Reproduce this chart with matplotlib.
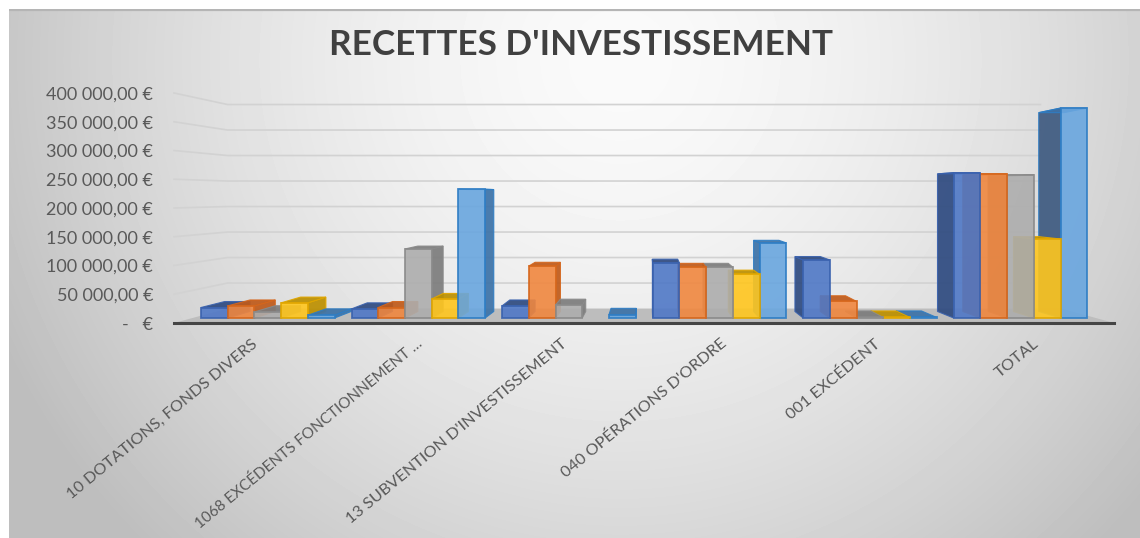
import numpy as np
import matplotlib
matplotlib.use("Agg")
import matplotlib.pyplot as plt
from matplotlib.patches import Polygon

title = "RECETTES D'INVESTISSEMENT"
categories = ["10 DOTATIONS, FONDS DIVERS", "1068 EXCÉDENTS FONCTIONNEMENT …",
              "13 SUBVENTION D'INVESTISSEMENT", "040 OPÉRATIONS D'ORDRE",
              "001 EXCÉDENT", "TOTAL"]
serie_1 = [19000, 16500, 22000, 100000, 105000, 263000]
serie_2 = [22000, 19000, 94000, 92000, 30000, 261000]
serie_3 = [11000, 125000, 23500, 92000, 1000, 259000]
serie_4 = [27500, 34500, 0, 79000, 1000, 143000]
serie_5 = [5000, 233000, 6000, 136000, 1000, 380000]
y_ticks = [0, 50000, 100000, 150000, 200000, 250000, 300000, 350000, 400000]
y_labels = ["-   €", "50 000,00 €", "100 000,00 €", "150 000,00 €", "200 000,00 €",
            "250 000,00 €", "300 000,00 €", "350 000,00 €", "400 000,00 €"]

series = [serie_1, serie_2, serie_3, serie_4, serie_5]
front_cols = ["#4F78C6", "#F0873F", "#ADADAD", "#FFC61E", "#69A6DF"]
edge_cols = ["#3A62AE", "#D5661C", "#8A8A8A", "#E0A600", "#2E7DC4"]
dark_cols = ["#2E4A80", "#BF5A1A", "#7C7C7C", "#BC9000", "#3C72A8"]

W, H = 1140, 538
fig = plt.figure(figsize=(W / 100, H / 100), dpi=100, facecolor="white")
plt.rcParams["font.family"] = ["Lato", "DejaVu Sans"]

# background gradient
bg = fig.add_axes([9 / W, 0, 1 - 9 / W, (H - 9) / H], zorder=0)
xx, yy = np.meshgrid(np.arange(9, W), np.arange(9, H))
d = np.minimum(np.hypot((xx - 620) / 620, (yy - 60) / 620), 1.1)
bg.imshow(250 - 52 * d ** 1.6, cmap="gray", vmin=0, vmax=255, aspect="auto",
          extent=(9, W, H, 9), interpolation="bilinear")
bg.axhline(9.5, color="#B5B5B5", lw=1.6)
bg.set_axis_off()

ax = fig.add_axes([174 / W, (H - 323) / H, 940 / W, 230 / H], zorder=1)
ax.patch.set_alpha(0)
ax.set_xlim(-0.5, 5.5)
ax.set_ylim(0, 400000)
for name in ("top", "right", "left"):
    ax.spines[name].set_visible(False)
ax.spines["bottom"].set_color("#454545")
ax.spines["bottom"].set_linewidth(2.2)
ax.spines["bottom"].set_zorder(2)
ax.set_xticks([])
ax.set_yticks(y_ticks, y_labels)
ax.tick_params(axis="y", length=0, pad=15, labelsize=13, labelcolor="#595959")

# simple perspective projection: s=1 is the front plane, toward the vanishing point
VX, VY = 2.525, 222600
S_BACK, S_FRONT, S_REAR = 0.887, 0.961, 0.91

def proj(x, v, s):
    return VX + s * (x - VX), VY + s * (v - VY)

# walls
for t in y_ticks[1:]:
    pts = [proj(-0.5, t, 1), proj(-0.5, t, S_BACK), proj(5.35, t, S_BACK)]
    ax.plot(*zip(*pts), color="#D2D2D2", lw=1.2, zorder=1, clip_on=False)
ax.add_patch(Polygon([proj(-0.5, 0, 1), proj(-0.5, 0, S_BACK), proj(5.5, 0, S_BACK),
                      proj(5.5, 0, 1)], closed=True, fc="#BDBDBD", ec="none",
                     zorder=1.5, clip_on=False))

# bars
bw = 0.1775
z = 3.0
for i in range(len(categories)):
    order = range(5)
    if i > VX:
        order = reversed(range(5))
    for j in order:
        v = series[j][i]
        if v == 0:
            continue
        x0 = i + (j - 2.5) * bw
        x1 = x0 + bw
        kw = dict(closed=True, lw=0.8, clip_on=False, alpha=0.92)
        # side
        side_col = dark_cols[j]
        if x1 < VX:
            side = [proj(x1, 0, S_FRONT), proj(x1, v, S_FRONT), proj(x1, v, S_REAR), proj(x1, 0, S_REAR)]
        else:
            side = [proj(x0, 0, S_FRONT), proj(x0, v, S_FRONT), proj(x0, v, S_REAR), proj(x0, 0, S_REAR)]
            if j == 4 and i == 5:
                side_col = "#3E5A80"
        ax.add_patch(Polygon(side, fc=side_col, ec=edge_cols[j], zorder=z, **kw))
        # top
        top = [proj(x0, v, S_FRONT), proj(x1, v, S_FRONT), proj(x1, v, S_REAR), proj(x0, v, S_REAR)]
        ax.add_patch(Polygon(top, fc=dark_cols[j], ec=edge_cols[j], zorder=z + 0.1, **kw))
        # front
        fx0, fb = proj(x0, 0, S_FRONT)
        fx1, ft = proj(x1, v, S_FRONT)
        ax.bar(fx0, ft - fb, width=fx1 - fx0, bottom=fb, align="edge", color=front_cols[j],
               edgecolor=edge_cols[j], linewidth=1.3, alpha=0.9, zorder=z + 0.2, clip_on=False)
        z += 1

fig.text(581 / W, 1 - 45 / H, title, ha="center", va="center", fontsize=25.3,
         fontweight="bold", color="#404040")

# category labels, anchored at their upper right end
label_shift = [6, 15, 3, 6, 2, 4]
label_size = [11.7, 11.0, 11.7, 11.7, 11.7, 11.7]
for i, lab in enumerate(categories):
    ax.annotate(lab, xy=(i, 0), xytext=(label_shift[i] - 3, -19), textcoords="offset pixels",
                rotation=39.5, rotation_mode="anchor", ha="right", va="center",
                fontsize=label_size[i], color="#595959", annotation_clip=False)

fig.savefig("out.png", dpi=100)
